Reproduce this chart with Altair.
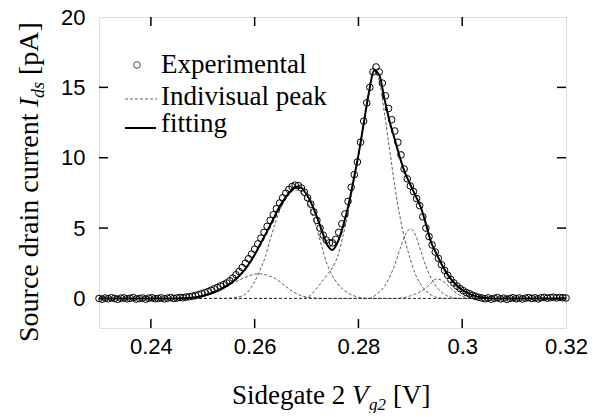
import altair as alt
import pandas as pd

# ---------------- data ----------------
exp_x = [0.2300, 0.2306, 0.2312, 0.2318, 0.2324, 0.2330, 0.2336, 0.2342, 0.2348, 0.2354,
         0.2360, 0.2366, 0.2372, 0.2378, 0.2384, 0.2390, 0.2396, 0.2402, 0.2408, 0.2414,
         0.2420, 0.2426, 0.2432, 0.2438, 0.2444, 0.2450, 0.2456, 0.2462, 0.2468, 0.2474,
         0.2480, 0.2486, 0.2492, 0.2498, 0.2504, 0.2510, 0.2516, 0.2522, 0.2528, 0.2534,
         0.2540, 0.2546, 0.2552, 0.2558, 0.2564, 0.2570, 0.2576, 0.2582, 0.2588, 0.2594,
         0.2600, 0.2606, 0.2612, 0.2618, 0.2624, 0.2630, 0.2636, 0.2642, 0.2648, 0.2654,
         0.2660, 0.2666, 0.2672, 0.2678, 0.2684, 0.2690, 0.2696, 0.2702, 0.2708, 0.2714,
         0.2720, 0.2726, 0.2732, 0.2738, 0.2744, 0.2750, 0.2756, 0.2762, 0.2768, 0.2774,
         0.2780, 0.2786, 0.2792, 0.2798, 0.2804, 0.2810, 0.2816, 0.2822, 0.2828, 0.2834,
         0.2840, 0.2846, 0.2852, 0.2858, 0.2864, 0.2870, 0.2876, 0.2882, 0.2888, 0.2894,
         0.2900, 0.2906, 0.2912, 0.2918, 0.2924, 0.2930, 0.2936, 0.2942, 0.2948, 0.2954,
         0.2960, 0.2966, 0.2972, 0.2978, 0.2984, 0.2990, 0.2996, 0.3002, 0.3008, 0.3014,
         0.3020, 0.3026, 0.3032, 0.3038, 0.3044, 0.3050, 0.3056, 0.3062, 0.3068, 0.3074,
         0.3080, 0.3086, 0.3092, 0.3098, 0.3104, 0.3110, 0.3116, 0.3122, 0.3128, 0.3134,
         0.3140, 0.3146, 0.3152, 0.3158, 0.3164, 0.3170, 0.3176, 0.3182, 0.3188, 0.3194,
         0.3200]
exp_y = [0.00, -0.05, 0.03, -0.02, 0.05, 0.00, -0.06, 0.02, 0.04, -0.03,
         0.01, 0.06, -0.04, 0.00, 0.03, -0.05, 0.02, 0.05, -0.02, 0.00,
         0.04, -0.03, 0.02, 0.06, 0.00, 0.03, 0.07, 0.05, 0.10, 0.12,
         0.16, 0.21, 0.27, 0.34, 0.41, 0.49, 0.58, 0.68, 0.78, 0.88,
         0.98, 1.10, 1.25, 1.45, 1.68, 1.92, 2.20, 2.50, 2.82, 3.15,
         3.50, 3.88, 4.28, 4.70, 5.12, 5.55, 5.95, 6.38, 6.78, 7.15,
         7.48, 7.75, 7.95, 8.05, 8.02, 7.85, 7.55, 7.15, 6.70, 6.15,
         5.55, 5.00, 4.50, 4.15, 3.95, 3.95, 4.20, 4.70, 5.30, 6.00,
         6.90, 7.90, 8.80, 9.70, 11.10, 12.60, 13.90, 15.00, 16.10, 16.45,
         16.10, 15.30, 14.40, 13.50, 12.70, 11.90, 11.10, 10.20, 9.20, 8.50,
         8.00, 7.60, 7.10, 6.60, 5.80, 5.00, 4.40, 3.80, 3.30, 2.85,
         2.40, 2.00, 1.65, 1.35, 1.10, 0.88, 0.70, 0.55, 0.42, 0.33,
         0.22, 0.14, 0.08, 0.03, -0.02, 0.04, -0.05, 0.01, 0.06, -0.03,
         0.02, -0.06, 0.00, 0.05, -0.02, 0.03, -0.04, 0.02, 0.06, 0.00,
         0.04, -0.03, 0.05, 0.08, 0.02, 0.06, 0.09, 0.04, 0.07, 0.05,
         0.03]

curve_x = [0.230,
           0.245, 0.246, 0.247, 0.248, 0.249, 0.250, 0.251, 0.252, 0.253, 0.254,
           0.255, 0.256, 0.257, 0.258, 0.259, 0.260, 0.261, 0.262, 0.263, 0.264,
           0.265, 0.266, 0.267, 0.268, 0.269, 0.270, 0.271, 0.272, 0.273, 0.274,
           0.275, 0.276, 0.277, 0.278, 0.279, 0.280, 0.281, 0.282, 0.283, 0.284,
           0.285, 0.286, 0.287, 0.288, 0.289, 0.290, 0.291, 0.292, 0.293, 0.294,
           0.295, 0.296, 0.297, 0.298, 0.299, 0.300, 0.301, 0.302, 0.303, 0.304,
           0.305, 0.306,
           0.320]
fit_y = [0.0,
         0.00, 0.01, 0.03, 0.06, 0.11, 0.18, 0.28, 0.40, 0.55, 0.75,
         0.98, 1.25, 1.60, 2.00, 2.50, 3.10, 3.80, 4.50, 5.20, 5.95,
         6.65, 7.20, 7.65, 7.95, 7.85, 7.40, 6.70, 5.80, 4.75, 3.80,
         3.45, 4.00, 5.10, 6.50, 8.30, 10.20, 12.40, 14.60, 16.20, 15.90,
         14.20, 12.60, 11.30, 10.00, 8.90, 8.10, 7.30, 6.50, 5.30, 4.00,
         3.20, 2.45, 1.80, 1.30, 0.90, 0.60, 0.40, 0.22, 0.12, 0.05,
         0.01, 0.00,
         0.0]
peak_a = [0.0,
          0.00, 0.02, 0.05, 0.08, 0.13, 0.20, 0.30, 0.42, 0.58, 0.75,
          0.93, 1.12, 1.30, 1.48, 1.62, 1.72, 1.76, 1.70, 1.57, 1.40,
          1.15, 0.85, 0.58, 0.35, 0.20, 0.10, 0.05, 0.02, 0.00, 0.00,
          0, 0, 0, 0, 0, 0, 0, 0, 0, 0,
          0, 0, 0, 0, 0, 0, 0, 0, 0, 0,
          0, 0, 0, 0, 0, 0, 0, 0, 0, 0,
          0, 0,
          0.0]
peak_b = [0.0,
          0, 0, 0, 0, 0, 0, 0, 0, 0, 0,
          0.02, 0.05, 0.12, 0.25, 0.60, 1.20, 2.00, 2.90, 4.20, 5.40,
          6.40, 7.10, 7.55, 7.70, 7.50, 7.00, 6.10, 4.90, 3.60, 2.40,
          1.60, 1.05, 0.65, 0.38, 0.20, 0.09, 0.03, 0.00, 0.00, 0.00,
          0, 0, 0, 0, 0, 0, 0, 0, 0, 0,
          0, 0, 0, 0, 0, 0, 0, 0, 0, 0,
          0, 0,
          0.0]
peak_c = [0.0,
          0, 0, 0, 0, 0, 0, 0, 0, 0, 0,
          0, 0, 0, 0, 0, 0, 0, 0, 0, 0,
          0, 0, 0, 0, 0, 0.05, 0.30, 0.75, 1.20, 1.70,
          2.20, 3.00, 4.40, 6.10, 8.10, 10.10, 12.40, 14.60, 16.05, 15.50,
          13.20, 10.60, 8.00, 5.80, 4.10, 2.80, 1.70, 1.00, 0.55, 0.25,
          0.08, 0.02, 0, 0, 0, 0, 0, 0, 0, 0,
          0, 0,
          0.0]
peak_d = [0.0,
          0, 0, 0, 0, 0, 0, 0, 0, 0, 0,
          0, 0, 0, 0, 0, 0, 0, 0, 0, 0,
          0, 0, 0, 0, 0, 0, 0, 0, 0, 0,
          0, 0, 0, 0, 0, 0, 0, 0, 0.15, 0.45,
          0.85, 1.50, 2.40, 3.50, 4.50, 4.95, 4.50, 3.40, 2.30, 1.45,
          0.85, 0.45, 0.20, 0.08, 0.02, 0, 0, 0, 0, 0,
          0, 0,
          0.0]
peak_e = [0.0,
          0, 0, 0, 0, 0, 0, 0, 0, 0, 0,
          0, 0, 0, 0, 0, 0, 0, 0, 0, 0,
          0, 0, 0, 0, 0, 0, 0, 0, 0, 0,
          0, 0, 0, 0, 0, 0, 0, 0, 0, 0,
          0, 0, 0, 0.02, 0.08, 0.18, 0.32, 0.50, 0.75, 1.10,
          1.38, 1.30, 1.00, 0.65, 0.35, 0.15, 0.05, 0.01, 0, 0,
          0, 0,
          0.0]

x_label_values = [0.24, 0.26, 0.28, 0.30, 0.32]
y_label_values = [0, 5, 10, 15, 20]
x_tick_values = [0.24, 0.26, 0.28, 0.30]
y_tick_values = [0, 5, 10, 15]
legend_labels = ["Experimental", "Indivisual peak", "fitting"]

# ---------------- tables ----------------
exp_df = pd.DataFrame({"x": exp_x, "y": exp_y})
fit_df = pd.DataFrame({"x": curve_x, "y": fit_y})
peaks = {"A": peak_a, "B": peak_b, "C": peak_c, "D": peak_d, "E": peak_e}
peak_df = pd.concat([pd.DataFrame({"x": curve_x, "y": v, "peak": k}) for k, v in peaks.items()])

W, H = 467, 311
xscale = alt.Scale(domain=[0.23, 0.32], nice=False, zero=False)
yscale = alt.Scale(domain=[-2.1, 20], nice=False, zero=False)
xaxis = alt.Axis(values=x_label_values, format=".2~f", title=None, labelFont="Liberation Sans",
                 labelFontSize=22, labelColor="black", labelPadding=8, ticks=False, domain=False,
                 grid=False, labelOverlap=False, labelFlush=False)
yaxis = alt.Axis(values=y_label_values, format="d", title=None, labelFont="Liberation Sans",
                 labelFontSize=22, labelColor="black", labelPadding=14, ticks=False, domain=False,
                 grid=False, labelOverlap=False)
X = alt.X("x:Q", scale=xscale, axis=xaxis)
Y = alt.Y("y:Q", scale=yscale, axis=yaxis)

peaks_layer = alt.Chart(peak_df).mark_line(
    color="#333333", strokeWidth=0.8, strokeDash=[3, 2], interpolate="monotone"
).encode(x=X, y=Y, detail="peak:N")

fit_layer = alt.Chart(fit_df).mark_line(
    color="black", strokeWidth=2, interpolate="monotone"
).encode(x=X, y=Y)

exp_layer = alt.Chart(exp_df).mark_point(
    shape="circle", filled=False, color="black", size=44, strokeWidth=1.0, opacity=1
).encode(x=X, y=Y)

xt = pd.DataFrame({"x": x_tick_values})
yt = pd.DataFrame({"y": y_tick_values})
tick_style = dict(color="black", strokeWidth=1.5)
ticks_bottom = alt.Chart(xt).mark_rule(**tick_style).encode(x=X, y=alt.value(H), y2=alt.value(H - 9))
ticks_top = alt.Chart(xt).mark_rule(**tick_style).encode(x=X, y=alt.value(0), y2=alt.value(9))
ticks_left = alt.Chart(yt).mark_rule(**tick_style).encode(y=Y, x=alt.value(0), x2=alt.value(9))
ticks_right = alt.Chart(yt).mark_rule(**tick_style).encode(y=Y, x=alt.value(W), x2=alt.value(W - 9))


def label(text, x, y, size=27, italic=False, angle=0):
    return alt.Chart(pd.DataFrame({"t": [text]})).mark_text(
        align="left", baseline="alphabetic", font="Liberation Serif", fontSize=size,
        fontStyle="italic" if italic else "normal", angle=angle, color="black"
    ).encode(x=alt.value(x), y=alt.value(y), text="t:N")


# x-axis title: Sidegate 2 V_g2 [V]
xtitle = [
    label("Sidegate 2", 133, 387),
    label("V", 253, 387, italic=True),
    label("g2", 270, 393, size=17, italic=True),
    label("[V]", 294, 387),
]
# y-axis title: Source drain current I_ds [pA]  (rotated)
ytitle = [
    label("Source drain current", -61, 325, size=28, angle=270),
    label("I", -61, 90, size=28, italic=True, angle=270),
    label("ds", -55, 81, size=18, italic=True, angle=270),
    label("[pA]", -61, 58, size=28, angle=270),
]

# legend
leg_pt = alt.Chart(pd.DataFrame({"k": [legend_labels[0]]})).mark_point(
    shape="circle", filled=False, color="black", size=44, strokeWidth=1.0
).encode(x=alt.value(38), y=alt.value(48))
leg_dash = alt.Chart(pd.DataFrame({"k": [legend_labels[1]]})).mark_rule(
    color="#333333", strokeWidth=0.8, strokeDash=[3, 2]
).encode(x=alt.value(26), x2=alt.value(58), y=alt.value(82))
leg_solid = alt.Chart(pd.DataFrame({"k": [legend_labels[2]]})).mark_rule(
    color="black", strokeWidth=2
).encode(x=alt.value(26), x2=alt.value(57), y=alt.value(111))
legend = [
    leg_pt, leg_dash, leg_solid,
    label(legend_labels[0], 62, 56),
    label(legend_labels[1], 62, 88),
    label(legend_labels[2], 62, 115),
]

chart = alt.layer(
    peaks_layer, fit_layer, exp_layer,
    ticks_bottom, ticks_top, ticks_left, ticks_right,
    *xtitle, *ytitle, *legend
).properties(
    width=W, height=H,
    autosize=alt.AutoSizeParams(type="none"),
    padding={"left": 91, "top": 9, "right": 40, "bottom": 85},
).configure_view(
    stroke="black", strokeWidth=2
).configure(background="white")

chart.save("out.html", embed_options={"renderer": "svg", "actions": False})
